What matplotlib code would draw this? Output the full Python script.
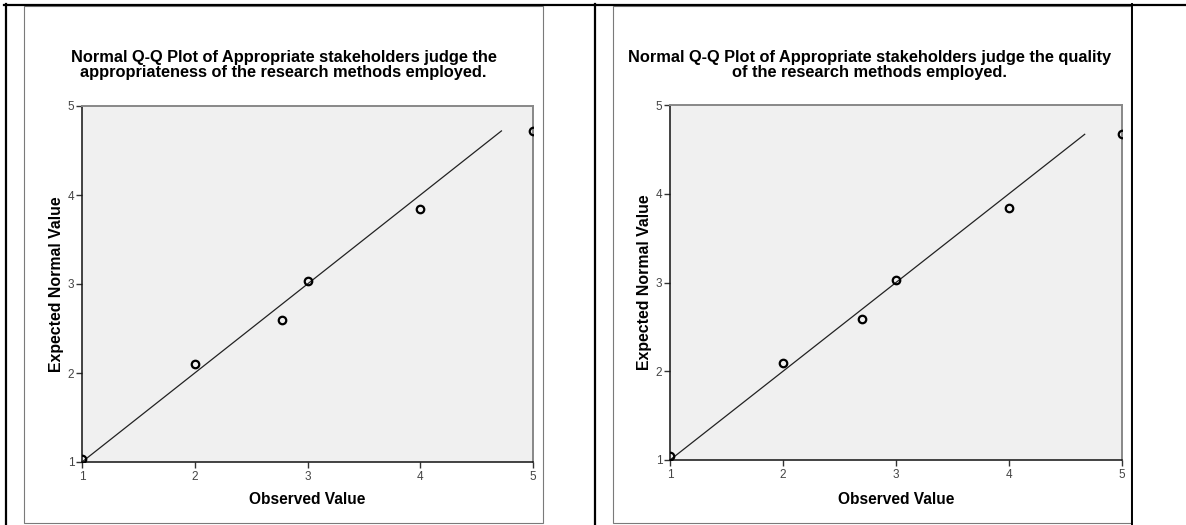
"""Two SPSS-style Normal Q-Q plots side by side inside a table frame."""
import matplotlib
matplotlib.use("Agg")
import matplotlib.pyplot as plt
from matplotlib.lines import Line2D
from matplotlib.patches import Rectangle

W, H = 1186, 525

# data
titles = [
    "Normal Q-Q Plot of Appropriate stakeholders judge the\n"
    "appropriateness of the research methods employed.",
    "Normal Q-Q Plot of Appropriate stakeholders judge the quality\n"
    "of the research methods employed.",
]
observed_1 = [1, 2, 2.77, 3, 4, 5]
expected_1 = [1.03, 2.10, 2.59, 3.03, 3.84, 4.72]
observed_2 = [1, 2, 2.70, 3, 4, 5]
expected_2 = [1.04, 2.09, 2.59, 3.03, 3.84, 4.67]
ref_line_1 = [1, 4.72]
ref_line_2 = [1, 4.67]
ticks = [1, 2, 3, 4, 5]
tick_labels = ["1", "2", "3", "4", "5"]

plt.rcParams["font.family"] = ["Liberation Sans", "DejaVu Sans"]

fig = plt.figure(figsize=(W / 100, H / 100), dpi=100)


def fx(px):
    return px / W


def fy(py):
    return 1 - py / H


def hline(x0, x1, y, color, lw):
    fig.add_artist(Line2D([fx(x0), fx(x1)], [fy(y), fy(y)], color=color, lw=lw,
                          transform=fig.transFigure))


def vline(x, y0, y1, color, lw):
    fig.add_artist(Line2D([fx(x), fx(x)], [fy(y0), fy(y1)], color=color, lw=lw,
                          transform=fig.transFigure))


# table borders
hline(4, W, 4.5, "black", 1.6)
vline(5.5, 4, H, "black", 1.6)
vline(595, 4, H, "black", 1.6)
vline(1131.5, 4, H, "black", 1.4)

# chart frames (grey boxes)
for x0, x1 in [(24, 543), (613, 1131)]:
    fig.add_artist(Rectangle((fx(x0), fy(523)), fx(x1) - fx(x0), fy(6) - fy(523),
                             fill=False, edgecolor="#7a7a7a", lw=0.8,
                             transform=fig.transFigure))

panels = [
    # (left, right, top, bottom) axes in pixels, box centre x
    ((82, 533, 106, 462), 283.5, observed_1, expected_1, ref_line_1, titles[0]),
    ((670, 1122, 105, 460), 870, observed_2, expected_2, ref_line_2, titles[1]),
]

for (l, r, t, b), cx, obs, exp, line, title in panels:
    ax = fig.add_axes([fx(l), fy(b), fx(r) - fx(l), fy(t) - fy(b)])
    ax.set_facecolor("#f0f0f0")
    ax.plot(line, line, color="#222222", lw=0.9, zorder=2)
    ax.plot(obs, exp, linestyle="none", marker="o", markersize=5.4,
            markerfacecolor="none", markeredgecolor="black",
            markeredgewidth=1.6, zorder=3)
    ax.set_xlim(1, 5)
    ax.set_ylim(1, 5)
    ax.set_xticks(ticks)
    ax.set_xticklabels(tick_labels)
    ax.set_yticks(ticks)
    ax.set_yticklabels(tick_labels)
    ax.tick_params(direction="out", length=4, width=1, color="#333333",
                   labelsize=8.5, labelcolor="#444444", pad=1.5)
    ax.tick_params(axis="x", pad=2.5)
    for side in ("left", "bottom"):
        ax.spines[side].set_color("#111111")
        ax.spines[side].set_linewidth(1.1)
    for side in ("top", "right"):
        ax.spines[side].set_color("#888888")
        ax.spines[side].set_linewidth(1.4)

    fig.text(fx(cx), fy(65), title, ha="center", va="center", fontsize=11.8,
             fontweight="bold", linespacing=1.02)
    fig.text(fx((l + r) / 2), fy(500), "Observed Value", ha="center", va="center",
             fontsize=11.2, fontweight="bold")
    fig.text(fx(l - 25), fy((t + b) / 2), "Expected Normal Value", ha="center",
             va="center", rotation=90, fontsize=11.4, fontweight="bold")

fig.savefig("out.png", dpi=100)
